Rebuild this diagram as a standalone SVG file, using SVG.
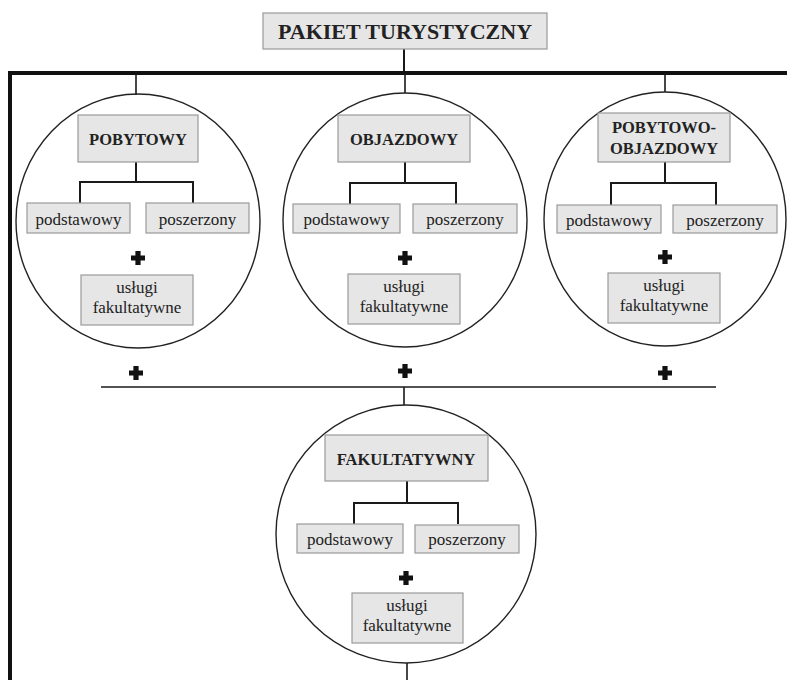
<svg xmlns="http://www.w3.org/2000/svg" width="787" height="680" viewBox="0 0 787 680">
<style>
.bx{fill:#e6e6e6;stroke:#9a9a9a;stroke-width:1.2}
.t{font-family:"Liberation Serif","Times New Roman",serif;font-size:17px;fill:#222;text-anchor:middle}
.b{font-weight:bold;font-size:16.5px}
.ttl{font-weight:bold;font-size:22px}
.cir{fill:none;stroke:#222;stroke-width:1.4}
.ln{fill:none;stroke:#1a1a1a;stroke-width:2}
.thin{fill:none;stroke:#1a1a1a;stroke-width:1.6}
.pl{fill:#111}
</style>
<defs>
<path id="plus" d="M-2.6,-7 H2.6 V-2.6 H7 V2.6 H2.6 V7 H-2.6 V2.6 H-7 V-2.6 H-2.6 Z"/>
</defs>
<g id="connectors">
<path class="ln" d="M404,49 V73"/>
<path d="M10,680 V73 H787" fill="none" stroke="#111" stroke-width="4"/>
<path class="thin" d="M136,73 V95 M405,73 V93 M665,73 V92"/>
<path class="ln" d="M136,162 V182 M80,203 V182 H193 V203"/>
<path class="ln" d="M405,162 V183 M350,204 V183 H456 V204"/>
<path class="ln" d="M665,162 V183 M611,205 V183 H716 V205"/>
<path class="thin" d="M101,387 H716 M404,387 V405"/>
<path class="ln" d="M407,481 V503 M354,524 V503 H458 V524"/>
<path class="thin" d="M407,663 V680"/>
</g>
<g id="title">
<rect class="bx" x="263" y="13" width="284" height="36"/>
<text class="t ttl" x="405" y="38.5">PAKIET TURYSTYCZNY</text>
</g>
<g id="pobytowy">
<ellipse class="cir" cx="138" cy="221" rx="122" ry="127"/>
<rect class="bx" x="78" y="115" width="120" height="47"/>
<text class="t b" x="138" y="145">POBYTOWY</text>
<rect class="bx" x="27" y="203" width="103" height="30"/>
<text class="t" x="78.5" y="225">podstawowy</text>
<rect class="bx" x="146" y="203" width="103" height="30"/>
<text class="t" x="197.5" y="225">poszerzony</text>
<use href="#plus" class="pl" x="138" y="258"/>
<rect class="bx" x="81" y="275" width="112" height="50"/>
<text class="t" x="137" y="293">usługi</text>
<text class="t" x="137" y="313">fakultatywne</text>
</g>
<g id="objazdowy">
<ellipse class="cir" cx="405" cy="220" rx="122" ry="127"/>
<rect class="bx" x="338" y="115" width="132" height="47"/>
<text class="t b" x="404" y="145">OBJAZDOWY</text>
<rect class="bx" x="293" y="204" width="107" height="29"/>
<text class="t" x="346.5" y="225">podstawowy</text>
<rect class="bx" x="413" y="204" width="104" height="29"/>
<text class="t" x="465" y="225">poszerzony</text>
<use href="#plus" class="pl" x="405" y="258"/>
<rect class="bx" x="348" y="274" width="112" height="50"/>
<text class="t" x="404" y="292">usługi</text>
<text class="t" x="404" y="312">fakultatywne</text>
</g>
<g id="pobytowo-objazdowy">
<ellipse class="cir" cx="665" cy="219" rx="121" ry="127"/>
<rect class="bx" x="598" y="113" width="132" height="49"/>
<text class="t b" x="664" y="133">POBYTOWO-</text>
<text class="t b" x="664" y="154">OBJAZDOWY</text>
<rect class="bx" x="557" y="205" width="104" height="28"/>
<text class="t" x="609" y="226">podstawowy</text>
<rect class="bx" x="673" y="205" width="104" height="28"/>
<text class="t" x="725" y="226">poszerzony</text>
<use href="#plus" class="pl" x="665" y="257"/>
<rect class="bx" x="608" y="273" width="112" height="50"/>
<text class="t" x="664" y="291">usługi</text>
<text class="t" x="664" y="311">fakultatywne</text>
</g>
<g id="pluses">
<use href="#plus" class="pl" x="136" y="373"/>
<use href="#plus" class="pl" x="405" y="371"/>
<use href="#plus" class="pl" x="665" y="373"/>
</g>
<g id="fakultatywny">
<ellipse class="cir" cx="406" cy="534" rx="130" ry="129"/>
<rect class="bx" x="325" y="435" width="163" height="46"/>
<text class="t b" x="406" y="465">FAKULTATYWNY</text>
<rect class="bx" x="297" y="524" width="106" height="29"/>
<text class="t" x="350" y="545">podstawowy</text>
<rect class="bx" x="415" y="525" width="104" height="28"/>
<text class="t" x="467" y="545">poszerzony</text>
<use href="#plus" class="pl" x="406" y="578"/>
<rect class="bx" x="352" y="593" width="111" height="50"/>
<text class="t" x="407" y="611">usługi</text>
<text class="t" x="407" y="631">fakultatywne</text>
</g>
</svg>
